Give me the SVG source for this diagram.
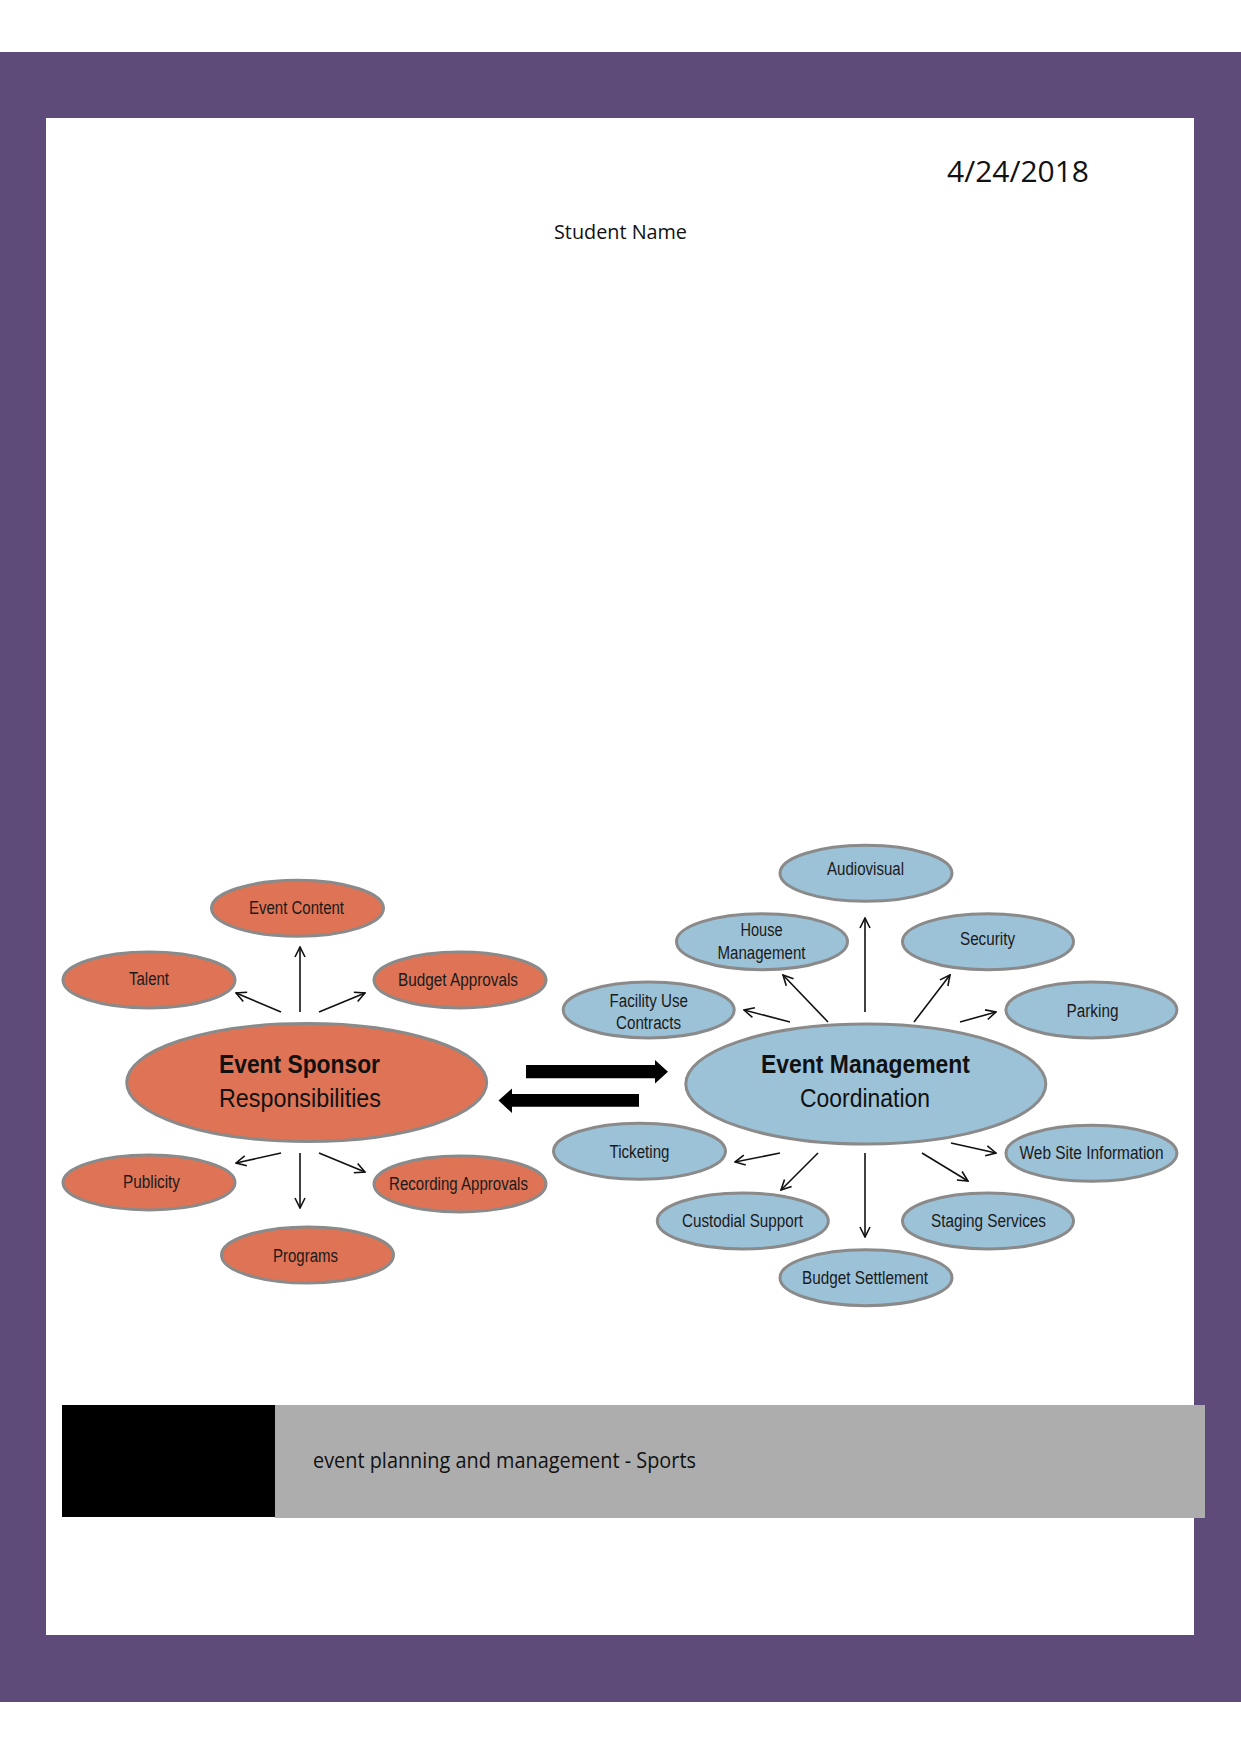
<svg xmlns="http://www.w3.org/2000/svg" width="1241" height="1754" viewBox="0 0 1241 1754">
<defs>
<style>
.lbl{font-family:"Liberation Sans",Arial,sans-serif;font-size:18px;fill:#1a1a1a}
.big{font-family:"Liberation Sans",Arial,sans-serif;font-size:26px;fill:#111}
.doc{font-family:"Open Sans","Liberation Sans",sans-serif;fill:#111}
.org{fill:#de7455;stroke:#8a8a8a;stroke-width:3}
.blu{fill:#9cc2d8;stroke:#8a8a8a;stroke-width:3}
.con line{stroke:#111;stroke-width:1.6;marker-end:url(#v)}
</style>
<marker id="v" viewBox="0 0 12 12" refX="11" refY="6" markerWidth="12" markerHeight="12" markerUnits="userSpaceOnUse" orient="auto">
<path d="M1,1 L11,6 L1,11" fill="none" stroke="#111" stroke-width="1.6"/>
</marker>
</defs>
<rect x="0" y="0" width="1241" height="1754" fill="#fff"/>
<rect x="0" y="52" width="1241" height="1650" fill="#5f4b7a"/>
<rect x="46" y="118" width="1148" height="1517" fill="#fff"/>

<g id="header">
<text class="doc" x="947" y="182" font-size="30" textLength="142" lengthAdjust="spacingAndGlyphs">4/24/2018</text>
<text class="doc" x="554" y="239" font-size="20" textLength="133" lengthAdjust="spacingAndGlyphs">Student Name</text>
</g>

<g id="footer">
<rect x="62" y="1405" width="213" height="112" fill="#000"/>
<rect x="275" y="1405" width="930" height="113" fill="#adadad"/>
<text class="doc" x="313" y="1468" font-size="21" textLength="383" lengthAdjust="spacingAndGlyphs">event planning and management - Sports</text>
</g>

<g id="connectors">
<g class="con">
<line x1="300" y1="1012" x2="300" y2="947"/>
<line x1="281" y1="1012" x2="236" y2="993"/>
<line x1="319" y1="1012" x2="365" y2="993"/>
<line x1="300" y1="1153" x2="300" y2="1208"/>
<line x1="281" y1="1153" x2="236" y2="1163"/>
<line x1="319" y1="1153" x2="365" y2="1172"/>

<line x1="865" y1="1012" x2="865" y2="918"/>
<line x1="828" y1="1022" x2="783" y2="975"/>
<line x1="914" y1="1022" x2="950" y2="975"/>
<line x1="790" y1="1022" x2="744" y2="1010"/>
<line x1="960" y1="1022" x2="996" y2="1012"/>
<line x1="780" y1="1153" x2="735" y2="1162"/>
<line x1="818" y1="1153" x2="781" y2="1190"/>
<line x1="865" y1="1153" x2="865" y2="1237"/>
<line x1="922" y1="1153" x2="968" y2="1181"/>
<line x1="951" y1="1143" x2="996" y2="1153"/>
</g>
<path id="arrow-right" d="M526,1065 L655,1065 L655,1060 L668,1071.7 L655,1083.5 L655,1078.3 L526,1078.3 Z" fill="#000"/>
<path id="arrow-left" d="M639,1094 L512,1094 L512,1088.5 L498.5,1100.5 L512,1113 L512,1106.7 L639,1106.7 Z" fill="#000"/>
</g>

<g id="event-sponsor">
<ellipse class="org" cx="306.7" cy="1082.5" rx="180" ry="59"/>
<text class="big" x="219" y="1073" font-weight="bold" textLength="161" lengthAdjust="spacingAndGlyphs">Event Sponsor</text>
<text class="big" x="219" y="1107" textLength="162" lengthAdjust="spacingAndGlyphs">Responsibilities</text>
</g>
<g id="event-content">
<ellipse class="org" cx="297.5" cy="908.3" rx="86" ry="28"/>
<text class="lbl" x="249" y="914" textLength="95" lengthAdjust="spacingAndGlyphs">Event Content</text>
</g>
<g id="talent">
<ellipse class="org" cx="149" cy="980" rx="86" ry="28"/>
<text class="lbl" x="129" y="985" textLength="40" lengthAdjust="spacingAndGlyphs">Talent</text>
</g>
<g id="budget-approvals">
<ellipse class="org" cx="460" cy="980" rx="86" ry="28"/>
<text class="lbl" x="398" y="986" textLength="120" lengthAdjust="spacingAndGlyphs">Budget Approvals</text>
</g>
<g id="publicity">
<ellipse class="org" cx="149" cy="1182.5" rx="86" ry="27.5"/>
<text class="lbl" x="123" y="1188" textLength="57" lengthAdjust="spacingAndGlyphs">Publicity</text>
</g>
<g id="recording-approvals">
<ellipse class="org" cx="460" cy="1184" rx="86" ry="28"/>
<text class="lbl" x="389" y="1190" textLength="139" lengthAdjust="spacingAndGlyphs">Recording Approvals</text>
</g>
<g id="programs">
<ellipse class="org" cx="307.5" cy="1255" rx="86" ry="28"/>
<text class="lbl" x="273" y="1261.5" textLength="65" lengthAdjust="spacingAndGlyphs">Programs</text>
</g>

<g id="event-management">
<ellipse class="blu" cx="865.8" cy="1084" rx="180" ry="60"/>
<text class="big" x="761" y="1073" font-weight="bold" textLength="209" lengthAdjust="spacingAndGlyphs">Event Management</text>
<text class="big" x="800" y="1107" textLength="130" lengthAdjust="spacingAndGlyphs">Coordination</text>
</g>
<g id="audiovisual">
<ellipse class="blu" cx="866" cy="873.3" rx="86" ry="28"/>
<text class="lbl" x="827" y="875" textLength="77" lengthAdjust="spacingAndGlyphs">Audiovisual</text>
</g>
<g id="house-management">
<ellipse class="blu" cx="762" cy="941.7" rx="85.5" ry="28"/>
<text class="lbl" x="740.5" y="936" textLength="42" lengthAdjust="spacingAndGlyphs">House</text>
<text class="lbl" x="717.5" y="958.5" textLength="88" lengthAdjust="spacingAndGlyphs">Management</text>
</g>
<g id="security">
<ellipse class="blu" cx="988" cy="941.7" rx="85.5" ry="28"/>
<text class="lbl" x="960" y="945" textLength="55" lengthAdjust="spacingAndGlyphs">Security</text>
</g>
<g id="facility-use-contracts">
<ellipse class="blu" cx="648.7" cy="1010" rx="85.5" ry="28"/>
<text class="lbl" x="609.5" y="1006.5" textLength="78.5" lengthAdjust="spacingAndGlyphs">Facility Use</text>
<text class="lbl" x="616" y="1029" textLength="65" lengthAdjust="spacingAndGlyphs">Contracts</text>
</g>
<g id="parking">
<ellipse class="blu" cx="1091.4" cy="1010" rx="85.5" ry="28"/>
<text class="lbl" x="1066.5" y="1017" textLength="52" lengthAdjust="spacingAndGlyphs">Parking</text>
</g>
<g id="ticketing">
<ellipse class="blu" cx="639.5" cy="1151.3" rx="86" ry="28"/>
<text class="lbl" x="609.5" y="1158" textLength="60" lengthAdjust="spacingAndGlyphs">Ticketing</text>
</g>
<g id="web-site-information">
<ellipse class="blu" cx="1091.4" cy="1153.3" rx="85.5" ry="28"/>
<text class="lbl" x="1019.5" y="1158.5" textLength="144" lengthAdjust="spacingAndGlyphs">Web Site Information</text>
</g>
<g id="custodial-support">
<ellipse class="blu" cx="742.8" cy="1221" rx="85.5" ry="28"/>
<text class="lbl" x="682" y="1227" textLength="121" lengthAdjust="spacingAndGlyphs">Custodial Support</text>
</g>
<g id="staging-services">
<ellipse class="blu" cx="988" cy="1221" rx="85.5" ry="28"/>
<text class="lbl" x="931" y="1227" textLength="115" lengthAdjust="spacingAndGlyphs">Staging Services</text>
</g>
<g id="budget-settlement">
<ellipse class="blu" cx="866" cy="1277.7" rx="86" ry="28"/>
<text class="lbl" x="802" y="1284" textLength="126" lengthAdjust="spacingAndGlyphs">Budget Settlement</text>
</g>
</svg>
